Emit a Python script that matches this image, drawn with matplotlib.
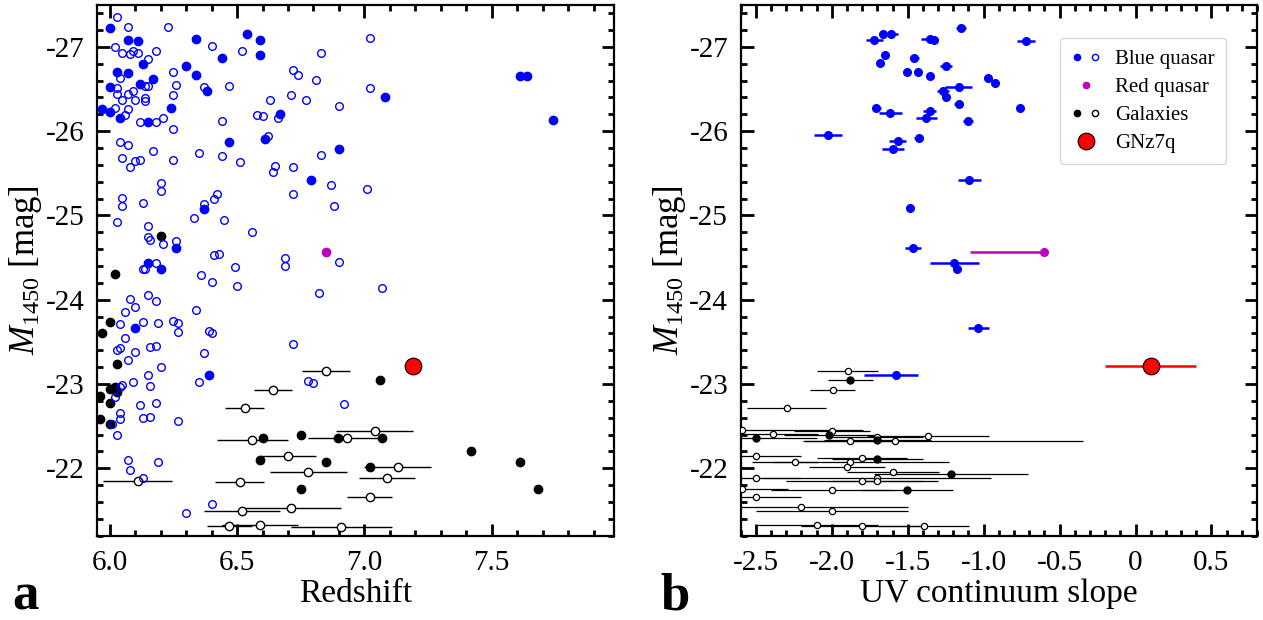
import matplotlib
matplotlib.use("Agg")
import matplotlib.pyplot as plt
from matplotlib.lines import Line2D
from matplotlib.legend_handler import HandlerTuple

plt.rcParams['font.family'] = ['Liberation Serif', 'DejaVu Serif']
plt.rcParams['mathtext.fontset'] = 'custom'
plt.rcParams['mathtext.rm'] = 'Liberation Serif'
plt.rcParams['mathtext.it'] = 'Liberation Serif:italic'
plt.rcParams['axes.unicode_minus'] = False

# ---------------- panel a: redshift vs M1450 ----------------
blue_filled_z = [6.00, 6.07, 6.11, 6.34, 6.54, 6.59, 6.59, 6.44, 6.13, 6.30, 6.03, 6.07, 6.34,
                 6.17, 6.12, 6.00, 6.38, 6.67, 5.97, 6.00, 6.04, 6.15, 6.24, 6.61, 6.47, 6.90,
                 6.79, 6.37, 6.26, 6.15, 6.20, 6.10, 6.39, 7.61, 7.64, 7.74, 7.08]
blue_filled_M = [-27.22, -27.08, -27.07, -27.09, -27.15, -27.08, -26.90, -26.87, -26.80, -26.77,
                 -26.70, -26.69, -26.67, -26.62, -26.56, -26.52, -26.48, -26.20, -26.26, -26.23,
                 -26.16, -26.11, -26.28, -25.91, -25.87, -25.79, -25.42, -25.08, -24.61, -24.44,
                 -24.37, -23.66, -23.11, -26.66, -26.65, -26.13, -26.41]

blue_open_z = [6.03, 6.07, 6.23, 6.40, 6.02, 6.05, 6.08, 6.09, 6.11, 6.18, 6.52, 6.83, 6.15, 6.04,
               6.25, 6.72, 6.74, 6.81, 6.14, 6.15, 6.26, 6.03, 6.09, 6.03, 6.07, 6.05, 6.10, 6.14,
               6.14, 6.25, 6.37, 6.47, 6.63, 6.71, 6.77, 6.90, 6.02, 6.07, 6.06, 6.12, 6.18, 6.21,
               6.25, 6.44, 6.58, 6.60, 6.66, 6.62, 6.04, 6.07, 6.17, 6.35, 6.44, 6.51, 6.83, 6.05,
               6.10, 6.12, 6.25, 6.08, 6.65, 6.64, 6.72, 6.87, 6.20, 6.20, 6.05, 6.05, 6.13, 6.42,
               6.41, 6.37, 6.72, 6.88, 6.33, 6.45, 6.03, 6.15, 6.56, 6.15, 6.16, 6.21, 6.26, 6.41,
               6.43, 6.69, 6.69, 6.90, 6.18, 6.13, 6.14, 6.49, 6.36, 6.40, 6.50, 6.82, 6.15, 6.18,
               6.08, 6.10, 6.06, 6.34, 6.04, 6.13, 6.19, 6.25, 6.27, 6.27, 6.39, 6.40, 6.06, 6.03,
               6.04, 6.10, 6.16, 6.18, 6.37, 6.72, 6.07, 6.20, 6.15, 6.09, 6.05, 6.04, 6.16, 6.35,
               6.78, 6.80, 6.02, 6.12, 6.18, 6.92, 6.04, 6.04, 6.13, 6.16, 6.27, 6.01, 6.03, 6.07,
               6.08, 6.19, 6.13, 6.40, 6.30, 7.01, 7.07, 7.02, 7.02]
blue_open_M = [-27.36, -27.23, -27.24, -27.01, -27.00, -26.93, -26.92, -26.95, -26.93, -26.95,
               -26.95, -26.93, -26.85, -26.63, -26.70, -26.72, -26.67, -26.61, -26.54, -26.54,
               -26.55, -26.51, -26.48, -26.44, -26.44, -26.37, -26.37, -26.39, -26.36, -26.43,
               -26.52, -26.54, -26.37, -26.43, -26.37, -26.30, -26.28, -26.26, -26.19, -26.11,
               -26.11, -26.15, -26.03, -26.12, -26.19, -26.18, -26.15, -25.94, -25.87, -25.83,
               -25.77, -25.74, -25.70, -25.63, -25.72, -25.68, -25.65, -25.66, -25.66, -25.57,
               -25.59, -25.51, -25.57, -25.36, -25.38, -25.29, -25.21, -25.11, -25.15, -25.26,
               -25.19, -25.14, -25.25, -25.11, -24.97, -24.94, -24.92, -24.88, -24.80, -24.74,
               -24.71, -24.66, -24.70, -24.53, -24.54, -24.50, -24.40, -24.45, -24.44, -24.36,
               -24.37, -24.39, -24.29, -24.21, -24.16, -24.08, -24.06, -23.98, -24.01, -23.91,
               -23.86, -23.88, -23.71, -23.73, -23.72, -23.75, -23.72, -23.62, -23.63, -23.61,
               -23.54, -23.40, -23.43, -23.38, -23.44, -23.45, -23.37, -23.47, -23.28, -23.20,
               -23.11, -23.02, -22.99, -22.97, -22.98, -23.02, -23.03, -23.01, -22.84, -22.75,
               -22.77, -22.76, -22.65, -22.59, -22.60, -22.61, -22.56, -22.52, -22.40, -22.10,
               -21.98, -22.08, -21.89, -21.58, -21.47, -25.31, -24.14, -27.10, -26.51]

red_z = [6.85]
red_M = [-24.57]

gal_filled_z = [6.20, 6.02, 6.00, 5.97, 6.03, 6.00, 6.02, 6.03, 5.96, 6.00, 5.96, 6.00, 6.60,
                6.75, 6.895, 7.07, 6.59, 6.85, 6.75, 7.06, 7.42, 7.61, 7.68, 7.02]
gal_filled_M = [-24.76, -24.31, -23.73, -23.61, -23.24, -22.94, -22.96, -22.91, -22.86, -22.77,
                -22.58, -22.53, -22.36, -22.39, -22.36, -22.36, -22.10, -22.07, -21.76, -23.05,
                -22.20, -22.07, -21.75, -22.02]

gal_open_z = [6.11, 6.85, 6.64, 6.53, 6.56, 6.93, 7.04, 6.70, 6.78, 6.51, 6.71, 6.52, 6.47,
              6.59, 6.91, 7.13, 7.09, 7.02]
gal_open_M = [-21.85, -23.15, -22.93, -22.71, -22.33, -22.36, -22.44, -22.15, -21.95, -21.84,
              -21.53, -21.49, -21.31, -21.33, -21.30, -22.01, -21.88, -21.66]
gal_open_zerr = [0.135, 0.095, 0.075, 0.076, 0.14, 0.15, 0.15, 0.11, 0.15, 0.095, 0.2, 0.15,
                 0.09, 0.15, 0.2, 0.13, 0.11, 0.09]

gnz7q_z = [7.19]
gnz7q_M = [-23.21]

# ---------------- panel b: UV slope vs M1450 ----------------
blue_beta = [-1.149, -1.66, -1.61, -1.72, -1.356, -1.325, -1.65, -1.68, -1.457, -1.246, -1.505,
             -1.435, -1.356, -0.974, -0.925, -1.165, -1.268, -1.246, -1.165, -1.707, -1.615,
             -1.356, -1.378, -1.103, -0.723, -0.763, -2.026, -1.567, -1.597, -1.428, -1.094,
             -1.488, -1.465, -1.193, -1.173, -1.035, -1.575]
blue_M2 = [-27.22, -27.15, -27.15, -27.08, -27.09, -27.08, -26.90, -26.81, -26.87, -26.77, -26.70,
           -26.70, -26.65, -26.63, -26.57, -26.52, -26.48, -26.41, -26.32, -26.27, -26.21,
           -26.24, -26.16, -26.12, -27.07, -26.28, -25.96, -25.88, -25.79, -25.92, -25.42,
           -25.09, -24.61, -24.44, -24.37, -23.66, -23.11]
blue_beta_err_lo = [0.03, 0.0, 0.045, 0.055, 0.057, 0.0, 0.0, 0.0, 0.03, 0.04, 0.0, 0.0, 0.0, 0.0,
                    0.0, 0.088, 0.04, 0.0, 0.03, 0.03, 0.074, 0.044, 0.07, 0.03, 0.06, 0.0, 0.092,
                    0.055, 0.07, 0.03, 0.074, 0.02, 0.055, 0.16, 0.0, 0.07, 0.215]
blue_beta_err_hi = [0.03, 0.0, 0.045, 0.055, 0.057, 0.0, 0.0, 0.0, 0.03, 0.04, 0.0, 0.0, 0.0, 0.0,
                    0.0, 0.088, 0.04, 0.0, 0.03, 0.03, 0.074, 0.044, 0.07, 0.03, 0.06, 0.0, 0.092,
                    0.055, 0.07, 0.03, 0.074, 0.02, 0.055, 0.16, 0.0, 0.07, 0.143]

red_beta = [-0.604]
red_M2 = [-24.57]
red_beta_err_lo = [0.484]
red_beta_err_hi = [0.0]

gnz7q_beta = [0.10]
gnz7q_beta_err = [0.30]

gal_open_beta = [-1.896, -1.995, -2.296, -2.593, -1.997, -2.39, -1.70, -1.877, -1.587, -1.367,
                 -2.50, -1.80, -2.24, -1.877, -1.897, -1.597, -2.50, -1.70, -1.70, -1.80, -2.00,
                 -2.59, -2.50, -2.20, -2.00, -2.096, -1.80, -1.396]
gal_open_M2 = [-23.15, -22.93, -22.71, -22.46, -22.44, -22.41, -22.37, -22.32, -22.32, -22.38,
               -22.15, -22.12, -22.08, -22.08, -22.01, -21.95, -21.88, -21.89, -21.85, -21.85,
               -21.74, -21.76, -21.66, -21.54, -21.49, -21.33, -21.31, -21.31]
gal_open_beta_err_lo = [0.2, 0.15, 0.26, 0.8, 0.25, 0.3, 0.3, 0.3, 0.6, 0.4, 0.3, 0.295, 0.15,
                        0.65, 0.25, 0.3, 0.3, 0.75, 0.3, 0.5, 0.4, 0.3, 0.3, 0.7, 0.5, 0.4, 0.4, 0.3]
gal_open_beta_err_hi = [0.2, 0.15, 0.26, 0.8, 0.25, 0.3, 0.3, 0.3, 1.24, 0.4, 0.3, 0.295, 0.15,
                        0.65, 0.25, 0.3, 0.3, 0.75, 0.3, 0.5, 0.4, 0.3, 0.3, 0.7, 0.5, 0.4, 0.4, 0.3]

gal_filled_beta = [-1.877, -2.50, -2.017, -1.70, -1.70, -1.215, -1.505]
gal_filled_M2 = [-23.05, -22.36, -22.39, -22.33, -22.11, -21.93, -21.74]
gal_filled_beta_err = [0.146, 0.4, 0.3, 0.35, 0.3, 0.51, 0.3]

BLUE = '#0000ff'
MAG = '#bf00bf'
TICK_FS = 21
LAB_FS = 24


def style_axis(ax):
    for s in ax.spines.values():
        s.set_linewidth(1.6)
    ax.tick_params(which='both', direction='in', top=True, right=True, labelsize=TICK_FS)
    ax.tick_params(axis='y', which='both', pad=9)
    ax.tick_params(axis='x', which='both', pad=10)
    ax.tick_params(which='major', length=9, width=2)
    ax.tick_params(which='minor', length=4.5, width=2)
    ax.set_ylim(-21.2, -27.5)
    ax.yaxis.set_major_locator(plt.MultipleLocator(1))
    ax.yaxis.set_minor_locator(plt.MultipleLocator(0.2))
    ax.set_ylabel('$M_{1450}$ [mag]', fontsize=25, labelpad=1)


fig = plt.figure(figsize=(12.63, 6.2), dpi=100)
ax1 = fig.add_axes([97 / 1263, 1 - 535.7 / 620, 517 / 1263, 531 / 620])
ax2 = fig.add_axes([740.7 / 1263, 1 - 535.7 / 620, 516.3 / 1263, 531 / 620])

# panel a
ax1.errorbar(gal_open_z, gal_open_M, xerr=gal_open_zerr, fmt='o', ms=6, mfc='white', mec='k',
             mew=1.0, ecolor='k', elinewidth=1.0, capsize=0, zorder=3)
ax1.plot(gal_filled_z, gal_filled_M, 'o', ms=6, color='k', zorder=3)
ax1.plot(blue_open_z, blue_open_M, 'o', ms=5.5, mfc='none', mec=BLUE, mew=1.0, zorder=4)
ax1.plot(blue_filled_z, blue_filled_M, 'o', ms=6, color=BLUE, zorder=4)
ax1.plot(red_z, red_M, 'o', ms=6, color=MAG, zorder=4)
ax1.plot(gnz7q_z, gnz7q_M, 'o', ms=12, mfc='red', mec='k', mew=0.8, zorder=6)
style_axis(ax1)
ax1.set_xlim(5.95, 7.98)
ax1.xaxis.set_major_locator(plt.MultipleLocator(0.5))
ax1.xaxis.set_minor_locator(plt.MultipleLocator(0.1))
ax1.xaxis.set_major_formatter(plt.FormatStrFormatter('%.1f'))
ax1.set_xlabel('Redshift', fontsize=LAB_FS, labelpad=2)

# panel b
ax2.errorbar(gal_open_beta, gal_open_M2, xerr=[gal_open_beta_err_lo, gal_open_beta_err_hi],
             fmt='o', ms=4.5, mfc='white', mec='k', mew=0.9, ecolor='k', elinewidth=0.9,
             capsize=0, zorder=3)
ax2.errorbar(gal_filled_beta, gal_filled_M2, xerr=gal_filled_beta_err, fmt='o', ms=5,
             color='k', ecolor='k', elinewidth=0.9, capsize=0, zorder=3)
ax2.errorbar(blue_beta, blue_M2, xerr=[blue_beta_err_lo, blue_beta_err_hi], fmt='o', ms=5.5,
             color=BLUE, ecolor=BLUE, elinewidth=1.8, capsize=0, zorder=4)
ax2.errorbar(red_beta, red_M2, xerr=[red_beta_err_lo, red_beta_err_hi], fmt='o', ms=5.5,
             color=MAG, ecolor=MAG, elinewidth=1.8, capsize=0, zorder=4)
ax2.errorbar(gnz7q_beta, gnz7q_M, xerr=gnz7q_beta_err, fmt='o', ms=12, mfc='red', mec='k',
             mew=0.8, ecolor='red', elinewidth=1.8, capsize=0, zorder=6)
style_axis(ax2)
ax2.set_xlim(-2.6, 0.8)
ax2.xaxis.set_major_locator(plt.MultipleLocator(0.5))
ax2.xaxis.set_minor_locator(plt.MultipleLocator(0.1))
ax2.xaxis.set_major_formatter(plt.FuncFormatter(lambda v, p: '0' if abs(v) < 1e-9 else '%.1f' % v))
ax2.set_xlabel('UV continuum slope', fontsize=LAB_FS, labelpad=2)

h_blue = (Line2D([], [], ls='none', marker='o', ms=4.5, color=BLUE),
          Line2D([], [], ls='none', marker='o', ms=4.5, mfc='none', mec=BLUE, mew=1))
h_red = Line2D([], [], ls='none', marker='o', ms=4.5, color=MAG)
h_gal = (Line2D([], [], ls='none', marker='o', ms=4.5, color='k'),
         Line2D([], [], ls='none', marker='o', ms=4.5, mfc='none', mec='k', mew=1))
h_gnz = Line2D([], [], ls='none', marker='o', ms=12, mfc='red', mec='k', mew=0.8)
ax2.legend([h_blue, h_red, h_gal, h_gnz], ['Blue quasar', 'Red quasar', 'Galaxies', 'GNz7q'],
           handler_map={tuple: HandlerTuple(ndivide=None, pad=0.3)},
           loc='upper right', bbox_to_anchor=(0.94, 0.937), borderaxespad=0, fontsize=15,
           handlelength=1.4, handletextpad=0.7, labelspacing=0.4, borderpad=0.55)

fig.text(25 / 1263, 1 - 610 / 620, 'a', fontsize=38, fontweight='bold', ha='center', va='baseline')
fig.text(675 / 1263, 1 - 610 / 620, 'b', fontsize=38, fontweight='bold', ha='center', va='baseline')

fig.savefig('out.png', dpi=100)
